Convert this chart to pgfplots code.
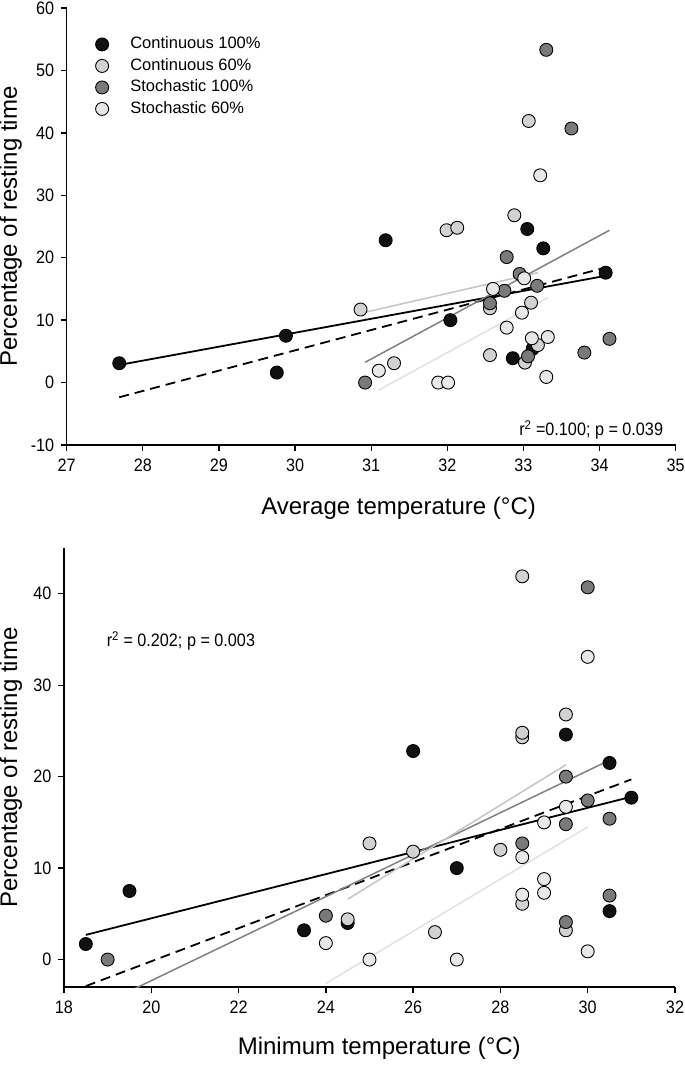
\documentclass[border=0pt]{standalone}
\usepackage{fontspec}
\setmainfont{Liberation Sans}
\newfontfamily\narrowfont[FakeStretch=0.9]{Liberation Sans}
\usepackage{pgfplots}
\pgfplotsset{compat=1.18}

\definecolor{cA}{HTML}{111111}
\definecolor{cB}{HTML}{D2D2D2}
\definecolor{cC}{HTML}{7A7A7A}
\definecolor{cD}{HTML}{E8E8E8}
\definecolor{lB}{HTML}{C4C4C4}
\definecolor{lC}{HTML}{808080}
\definecolor{lD}{HTML}{E0E0E0}

\pgfplotsset{
  myaxis/.style={
    scale only axis,
    axis lines*=left,
    axis line style={line width=1.3pt},
    tick style={line width=1.3pt, black},
    tick align=outside,
    major tick length=6pt,
    tick label style={font=\narrowfont\fontsize{18}{20}\selectfont},
    xticklabel style={yshift=-4pt},
    yticklabel style={xshift=-3pt},
    /pgf/number format/assume math mode=true,
    label style={font=\fontsize{24}{28}\selectfont},
  },
  pt/.style={only marks, mark=*, mark size=6.5pt, mark options={draw=black, line width=0.9pt, fill=#1}},
}

\begin{document}
\begin{tikzpicture}
\path[use as bounding box] (0pt,0pt) rectangle (685pt,-1068pt);

% ---------------- top panel ----------------
\begin{axis}[myaxis,
  at={(66.7pt,-445pt)}, anchor=south west,
  width=609pt, height=437pt,
  xmin=27, xmax=35, ymin=-10, ymax=60,
  xtick={27,28,...,35}, ytick={-10,0,...,60},
  xlabel={Average temperature (°C)},
  ylabel={Percentage of resting time},
  xlabel style={at={(axis description cs:0.545,-0.144)}, anchor=center},
  ylabel style={at={(axis description cs:-0.092,0.5)}, anchor=center},
  legend style={draw=none, fill=none, inner sep=0pt,
    at={(axis description cs:0.046,0.9405)}, anchor=north west,
    font=\fontsize{16.5}{19}\selectfont, row sep=1pt,
    nodes={inner sep=2pt, text height=12.5pt, text depth=4pt}},
  legend cell align=left,
  legend image code/.code={\path (-7pt,0pt) (26pt,0pt); \draw[#1] plot coordinates {(0pt,0pt)};},
]
% regression lines
\addplot[forget plot, black, line width=1.8pt] coordinates {(27.68,2.8) (34.08,17.1)};
\addplot[forget plot, black, line width=1.8pt, dash pattern=on 10pt off 6pt] coordinates {(27.69,-2.35) (34.13,18.6)};
\addplot[forget plot, lC, line width=1.5pt] coordinates {(30.92,3.25) (34.13,24.4)};
\addplot[forget plot, lB, line width=1.5pt] coordinates {(30.86,11.1) (33.19,17.6)};
\addplot[forget plot, lD, line width=1.5pt] coordinates {(31.10,-1.2) (33.32,13.6)};
% points
\addplot[pt=cA] coordinates {(27.69,3.1) (29.88,7.5) (29.76,1.6) (31.19,22.8) (32.04,10.0) (33.05,24.6) (33.26,21.5) (32.86,3.9) (33.12,5.4) (34.08,17.6)};
\addlegendentry{Continuous 100\%}
\addplot[pt=cB] coordinates {(30.86,11.7) (31.30,3.1) (31.99,24.4) (32.13,24.8) (32.88,26.8) (32.56,11.9) (32.56,4.4) (33.10,12.8) (33.02,3.2) (33.19,6.0) (33.07,41.9)};
\addlegendentry{Continuous 60\%}
\addplot[pt=cC] coordinates {(30.92,0.0) (32.56,12.7) (32.75,14.7) (32.78,20.1) (32.95,17.4) (33.18,15.5) (33.06,4.2) (33.80,4.8) (34.13,7.0) (33.30,53.3) (33.63,40.7)};
\addlegendentry{Stochastic 100\%}
\addplot[pt=cD] coordinates {(31.10,1.9) (31.88,0.0) (32.01,0.0) (32.60,15.0) (32.78,8.8) (32.98,11.2) (33.01,16.7) (33.11,7.1) (33.32,7.3) (33.30,0.9) (33.22,33.2)};
\addlegendentry{Stochastic 60\%}
\node[anchor=east, font=\narrowfont\fontsize{18}{20}\selectfont] at (axis cs:34.88,-7.6) {r\textsuperscript{2} =0.100; p = 0.039};
\end{axis}

% ---------------- bottom panel ----------------
\begin{axis}[myaxis,
  at={(64pt,-987pt)}, anchor=south west,
  width=611pt, height=439pt,
  xmin=18, xmax=32, ymin=-3, ymax=45,
  xtick={18,20,...,32}, ytick={0,10,...,40},
  xlabel={Minimum temperature (°C)},
  ylabel={Percentage of resting time},
  xlabel style={at={(axis description cs:0.516,-0.139)}, anchor=center},
  ylabel style={at={(axis description cs:-0.087,0.5)}, anchor=center},
]
\addplot[black, line width=1.8pt] coordinates {(18.5,2.7) (31,17.8)};
\addplot[black, line width=1.8pt, dash pattern=on 10pt off 6pt] coordinates {(18.5,-2.9) (31,19.7)};
\addplot[lC, line width=1.5pt] coordinates {(19.0,-4.6) (30.5,21.8)};
\addplot[lB, line width=1.5pt] coordinates {(24.5,6.6) (29.5,21.3)};
\addplot[lD, line width=1.5pt] coordinates {(24.0,-2.6) (30.0,14.5)};
\addplot[pt=cA] coordinates {(18.5,1.7) (19.5,7.5) (23.5,3.2) (24.5,4.0) (26,22.8) (27,10.0) (29.5,24.6) (30.5,21.5) (30.5,5.3) (31,17.7)};
\addplot[pt=cB] coordinates {(25,12.7) (26,11.8) (26.5,3.0) (28,12.0) (24.5,4.4) (28.5,41.9) (28.5,24.3) (28.5,24.8) (29.5,26.8) (29.5,3.2) (28.5,6.1)};
\addplot[pt=cC] coordinates {(19,0) (24,4.8) (28.5,12.7) (29.5,20.0) (29.5,14.8) (30,17.4) (30.5,15.4) (30.5,7.0) (29.5,4.1) (30,40.7) (30,53.3)};
\addplot[pt=cD] coordinates {(24,1.8) (25,0) (27,0) (28.5,11.2) (28.5,7.1) (29,15.0) (29,8.8) (29,7.3) (29.5,16.7) (30,0.9) (30,33.1)};
\node[anchor=west, font=\narrowfont\fontsize{18}{20}\selectfont] at (axis cs:18.9,34.8) {r\textsuperscript{2} = 0.202; p = 0.003};
\end{axis}
\end{tikzpicture}
\end{document}
